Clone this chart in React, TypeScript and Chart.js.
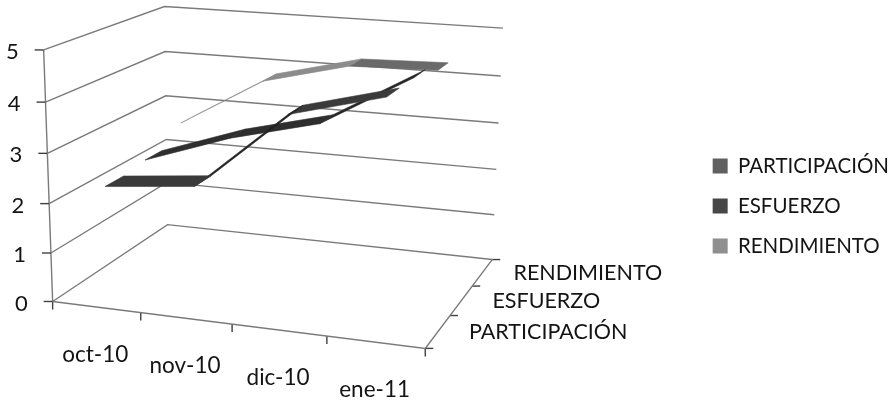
import { useEffect, useRef } from "react";
import { Chart, registerables } from "chart.js";

Chart.register(...registerables);

const categories = ["oct-10", "nov-10", "dic-10", "ene-11"];
const seriesNames = ["PARTICIPACIÓN", "ESFUERZO", "RENDIMIENTO"];
const valueTicks = [0, 1, 2, 3, 4, 5];

const participacion = [2.3, 2.48, 4.03, 4.5];
const esfuerzo = [2.38, 3.0, 3.45, 4.5];
const rendimiento = [2.75, 3.8, 4.25, 4.3];

const legendColors = ["#606060", "#474747", "#8f8f8f"];
const ribbonShades = [
  ["#3a3a3a", "#222222", "#3a3a3a"],
  ["#2e2e2e", "#2e2e2e", "#262626"],
  ["#8c8c8c", "#8c8c8c", "#6a6a6a"],
];

const GRID = "#7a7a7a";
const INK = "#141414";
const FONT = "Lato, 'Open Sans', sans-serif";
const VALUE_MAX = 5;
const RIBBON_DEPTH = 0.075;
const CATEGORY_START = 0.125;
const CATEGORY_STEP = 0.2475;

// Floor corners of the 3D box on the page and its vertical foreshortening.
const floor = {
  a: [52, 302],
  b: [425, 349],
  c: [167, 225],
  d: [492, 260],
};
const zTop = [43, 50];
const zPersp = -0.045;

function buildProjection() {
  const { a, b, c, d } = floor;
  const a1 = b[0] - d[0];
  const b1 = c[0] - d[0];
  const c1 = d[0] - b[0] - c[0] + a[0];
  const a2 = b[1] - d[1];
  const b2 = c[1] - d[1];
  const c2 = d[1] - b[1] - c[1] + a[1];
  const det = a1 * b2 - a2 * b1;
  const pu = (c1 * b2 - c2 * b1) / det;
  const pv = (a1 * c2 - a2 * c1) / det;
  const xu = b[0] * (1 + pu) - a[0];
  const yu = b[1] * (1 + pu) - a[1];
  const xv = c[0] * (1 + pv) - a[0];
  const yv = c[1] * (1 + pv) - a[1];
  const xz = zTop[0] * (1 + zPersp) - a[0];
  const yz = zTop[1] * (1 + zPersp) - a[1];
  return (u: number, v: number, value: number) => {
    const z = value / VALUE_MAX;
    const w = 1 + pu * u + pv * v + zPersp * z;
    return {
      x: (a[0] + xu * u + xv * v + xz * z) / w,
      y: (a[1] + yu * u + yv * v + yz * z) / w,
    };
  };
}
const project = buildProjection();

const lineSet = (data: { x: number; y: number }[], color = GRID, width = 1.4) => ({
  data,
  showLine: true,
  borderColor: color,
  borderWidth: width,
  pointRadius: 0,
  tension: 0,
  fill: false,
  clip: false as const,
});

const offset = (p: { x: number; y: number }, dx: number, dy: number) => ({ x: p.x + dx, y: p.y + dy });

function ribbonSets(values: number[], depth: number, shades: string[]) {
  const uAt = (i: number) => CATEGORY_START + i * CATEGORY_STEP;
  return values.slice(0, -1).map((val, i) => ({
    data: [
      project(uAt(i), depth - RIBBON_DEPTH, val),
      project(uAt(i + 1), depth - RIBBON_DEPTH, values[i + 1]),
      project(uAt(i + 1), depth + RIBBON_DEPTH, values[i + 1]),
      project(uAt(i), depth + RIBBON_DEPTH, val),
      project(uAt(i), depth - RIBBON_DEPTH, val),
    ],
    showLine: true,
    borderColor: shades[i],
    borderWidth: 0.6,
    backgroundColor: shades[i],
    pointRadius: 0,
    tension: 0,
    fill: "shape" as const,
    clip: false as const,
  }));
}

function frameSets() {
  const sets: any[] = [];
  // Gridlines: along the left wall, then along the back wall.
  valueTicks.forEach((t) => {
    sets.push(lineSet([project(0, 0, t), project(0, 1, t), project(1, 1, t)]));
    sets.push(lineSet([offset(project(0, 0, t), -9, 0), project(0, 0, t)], "#404040"));
  });
  sets.push(lineSet([project(0, 0, 0), project(0, 0, VALUE_MAX)]));
  sets.push(lineSet([project(0, 0, 0), project(1, 0, 0), project(1, 1, 0)]));
  sets.push(lineSet([project(0, 0, 0), offset(project(0, 0, 0), 0, 8)], "#404040"));
  [0.25, 0.5, 0.75, 1].forEach((u) => {
    const p = project(u, 0, 0);
    sets.push(lineSet([p, offset(p, 0, 8)], "#404040"));
  });
  [0, 1 / 3, 2 / 3, 1].forEach((v) => {
    const p = project(1, v, 0);
    sets.push(lineSet([p, offset(p, 8, 0)], "#404040"));
  });
  return sets;
}

const textLabels = {
  id: "axisText",
  afterDraw(chart: any) {
    const { ctx, scales } = chart;
    const put = (txt: string, p: { x: number; y: number }, align: CanvasTextAlign) => {
      ctx.textAlign = align;
      ctx.fillText(txt, scales.x.getPixelForValue(p.x), scales.y.getPixelForValue(p.y));
    };
    ctx.save();
    ctx.fillStyle = INK;
    ctx.textBaseline = "middle";
    ctx.font = `22px ${FONT}`;
    valueTicks.forEach((t) => put(String(t), offset(project(0, 0, t), -25, 2), "right"));
    ctx.font = `22.5px ${FONT}`;
    categories.forEach((c, i) => {
      put(c, offset(project((i + 0.5) / categories.length, 0, 0), -1, 48), "center");
    });
    ctx.font = `21.5px ${FONT}`;
    seriesNames.forEach((s, i) => {
      put(s, offset(project(1, (i + 0.5) / seriesNames.length, 0), 31, 1), "left");
    });
    ctx.restore();
  },
};

export default function App() {
  const ref = useRef<HTMLCanvasElement>(null);

  useEffect(() => {
    const depths = seriesNames.map((_, i) => (i + 0.5) / seriesNames.length);
    const datasets = [
      ...ribbonSets(participacion, depths[0], ribbonShades[0]),
      ...ribbonSets(esfuerzo, depths[1], ribbonShades[1]),
      ...ribbonSets(rendimiento, depths[2], ribbonShades[2]),
      ...frameSets(),
    ];
    const chart = new Chart(ref.current as HTMLCanvasElement, {
      type: "scatter",
      data: { datasets: datasets as any },
      plugins: [textLabels],
      options: {
        animation: false,
        responsive: false,
        layout: { padding: { top: 10, right: -4 } },
        scales: {
          x: { type: "linear", display: false, min: 0, max: 700 },
          y: { type: "linear", display: false, reverse: true, min: 0, max: 402 },
        },
        plugins: {
          tooltip: { enabled: false },
          legend: {
            position: "right",
            labels: {
              boxWidth: 15,
              boxHeight: 15,
              padding: 19.5,
              color: INK,
              font: { family: FONT, size: 20.5 },
              generateLabels: () =>
                seriesNames.map((text, i) => ({
                  text,
                  fillStyle: legendColors[i],
                  strokeStyle: legendColors[i],
                  lineWidth: 0,
                  fontColor: INK,
                  datasetIndex: i,
                })),
            },
          },
        },
      } as any,
    });
    // Align data units with canvas pixels once the legend has taken its share.
    const area = chart.chartArea;
    (chart.options.scales as any).x.min = area.left;
    (chart.options.scales as any).x.max = area.right;
    (chart.options.scales as any).y.min = area.top;
    (chart.options.scales as any).y.max = area.bottom;
    chart.update("none");
    return () => chart.destroy();
  }, []);

  return (
    <canvas
      ref={ref}
      width={895}
      height={402}
      style={{ position: "fixed", left: 0, top: 0, display: "block", background: "#ffffff" }}
    />
  );
}
